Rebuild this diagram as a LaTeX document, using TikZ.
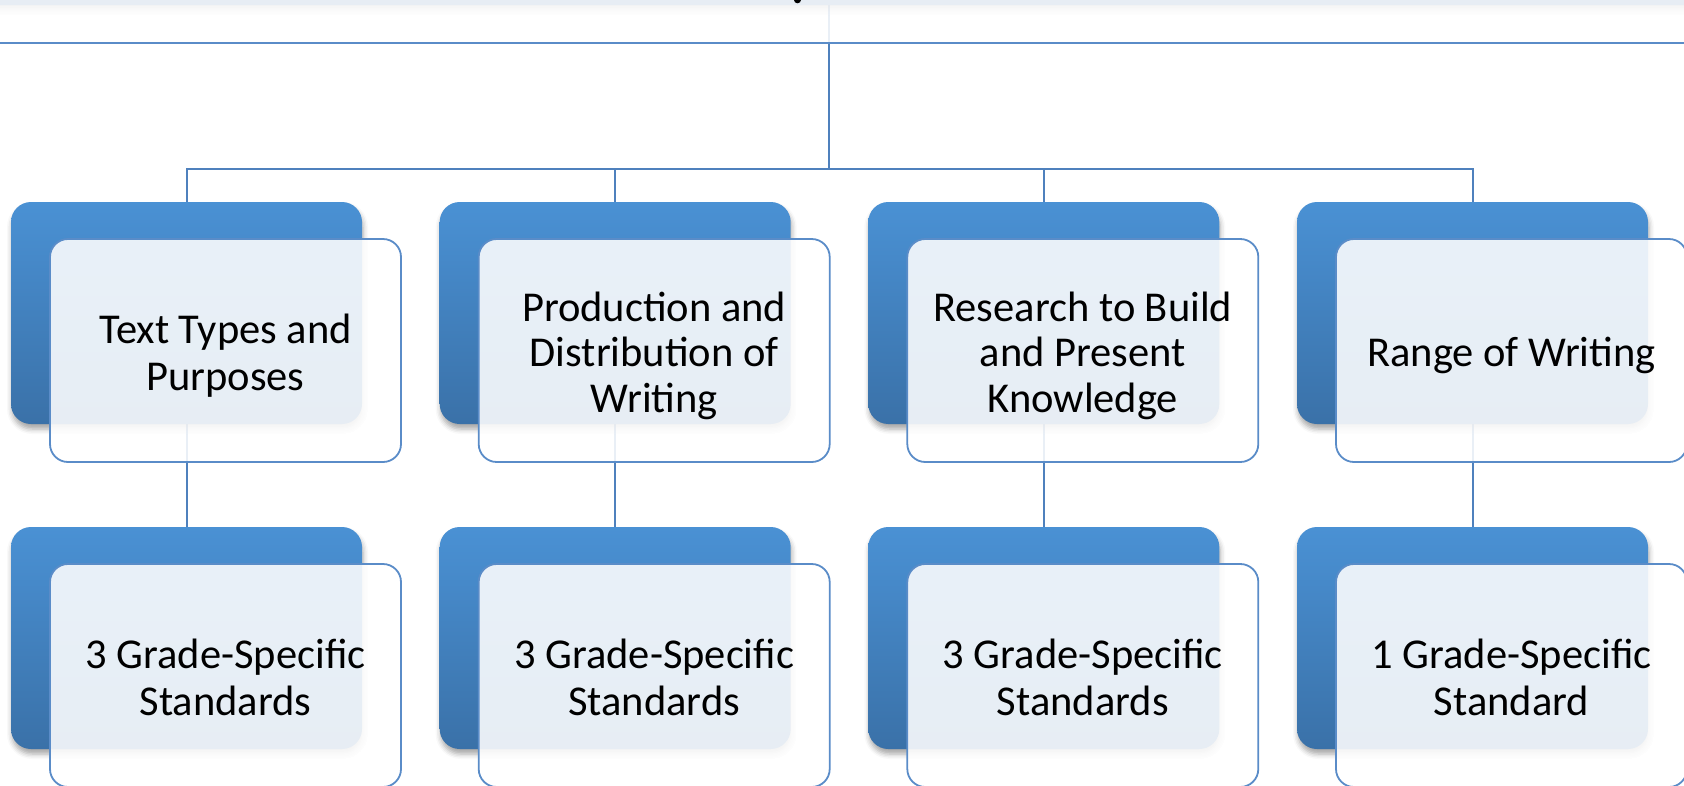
\documentclass[tikz,border=0pt]{standalone}
\usepackage{fontspec}
\setmainfont{Carlito}
\usetikzlibrary{shadows.blur,backgrounds}
\definecolor{linecol}{RGB}{79,129,189}
\definecolor{frontline}{RGB}{90,140,200}
\definecolor{backtop}{RGB}{74,145,212}
\definecolor{backbot}{RGB}{58,113,168}
\newcommand\lstrut{\rule[-6pt]{0pt}{45.5pt}}
\tikzset{
  backbox/.style={rectangle, rounded corners=20pt, minimum width=351pt, minimum height=222pt,
    inner sep=0pt, outer sep=0pt, top color=backtop, bottom color=backbot, draw=none,
    blur shadow={shadow xshift=1pt, shadow yshift=-5pt, shadow blur radius=5pt, shadow opacity=35}},
  frontbox/.style={rectangle, rounded corners=18pt, minimum width=351pt, minimum height=223pt,
    inner sep=0pt, outer sep=0pt, draw=frontline, line width=1.8pt, fill=white, fill opacity=0.88,
    text opacity=1, align=center, font=\fontsize{42.5}{45.5}\selectfont},
  conn/.style={draw=linecol, line width=2pt}
}
\begin{document}
\begin{tikzpicture}[x=1pt,y=-1pt]
\useasboundingbox (0,0) rectangle (1684,785);
\clip (0,0) rectangle (1684,785);
\node[backbox, minimum width=2400pt, anchor=south] (rb) at (829,5){};
\node[frontbox, minimum width=2400pt, anchor=south] (rf) at (868,43){};
\fill (797.5,0) ellipse [x radius=3.5pt, y radius=3.3pt];
\coordinate (fork) at (829,169);
\node[backbox] (b1) at (186.5,313){};
\node[frontbox] (f1) at (225.5,350.5){\lstrut Text Types and\\\lstrut Purposes};
\node[backbox] (b2) at (615.2,313){};
\node[frontbox] (f2) at (654.2,350.5){\lstrut Production and\\\lstrut Distribution of\\\lstrut Writing};
\node[backbox] (b3) at (1043.8,313){};
\node[frontbox] (f3) at (1082.8,350.5){\lstrut Research to Build\\\lstrut and Present\\\lstrut Knowledge};
\node[backbox] (b4) at (1472.5,313){};
\node[frontbox] (f4) at (1511.5,350.5){\lstrut Range of Writing};
\node[backbox] (c1) at (186.5,638){};
\node[frontbox] (g1) at (225.5,675.5){\lstrut 3 Grade-Specific\\\lstrut Standards};
\node[backbox] (c2) at (615.2,638){};
\node[frontbox] (g2) at (654.2,675.5){\lstrut 3 Grade-Specific\\\lstrut Standards};
\node[backbox] (c3) at (1043.8,638){};
\node[frontbox] (g3) at (1082.8,675.5){\lstrut 3 Grade-Specific\\\lstrut Standards};
\node[backbox] (c4) at (1472.5,638){};
\node[frontbox] (g4) at (1511.5,675.5){\lstrut 1 Grade-Specific\\\lstrut Standard};
\begin{pgfonlayer}{background}
\draw[conn] (rb.south) -- (fork);
\draw[conn] (fork) -| (b1.north);
\draw[conn] (fork) -| (b2.north);
\draw[conn] (fork) -| (b3.north);
\draw[conn] (fork) -| (b4.north);
\draw[conn] (b1.south) -- (c1.north);
\draw[conn] (b2.south) -- (c2.north);
\draw[conn] (b3.south) -- (c3.north);
\draw[conn] (b4.south) -- (c4.north);
\end{pgfonlayer}
\end{tikzpicture}
\end{document}
